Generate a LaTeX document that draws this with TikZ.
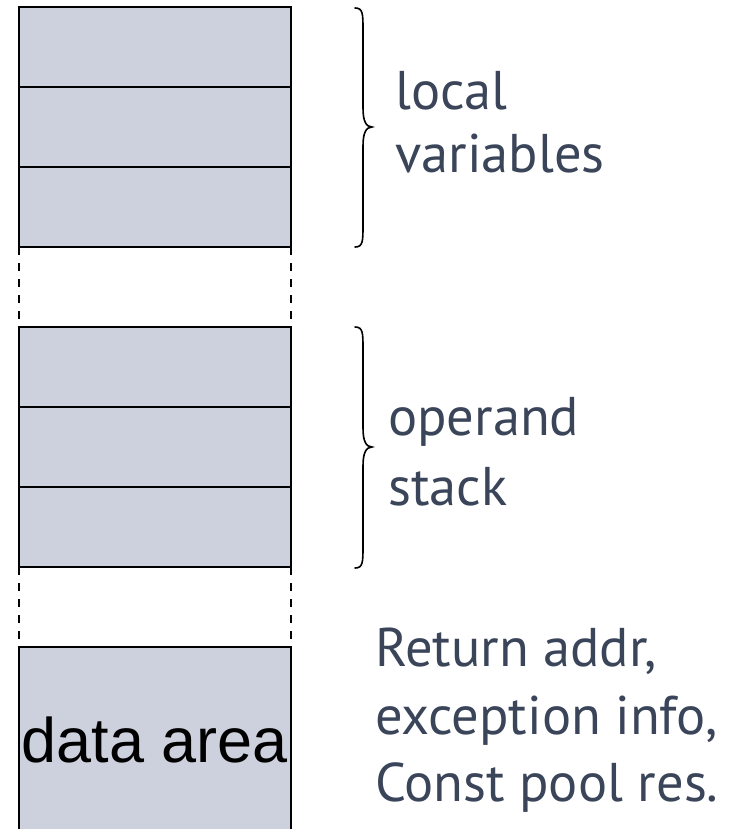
\documentclass[tikz,border=0pt]{standalone}
\usepackage{fontspec}
\setmainfont{PT Sans}
\newfontfamily\arialfont{Liberation Sans}
\definecolor{cellfill}{HTML}{CDD1DE}
\definecolor{labelcol}{HTML}{3B4559}
\begin{document}
\begin{tikzpicture}[x=1pt,y=-1pt,
  cell/.style={draw=black, line width=2pt, fill=cellfill, rectangle,
    minimum width=272pt, minimum height=80pt, anchor=north west, inner sep=0pt, outer sep=0pt},
  gapline/.style={draw=black, line width=2pt, dash pattern=on 8pt off 8pt},
  bracepath/.style={draw=black, line width=1.6pt, line cap=round},
  lbl/.style={text=labelcol, font=\fontsize{54.5}{64}\selectfont, anchor=base west, inner sep=0pt, align=left}
]
\useasboundingbox (0,0) rectangle (739,829);
\clip (0,0) rectangle (739,829);
% local variable slots
\node[cell] (lv1) at (19,7) {};
\node[cell] (lv2) at (19,87) {};
\node[cell] (lv3) at (19,167) {};
% operand stack slots
\node[cell] (os1) at (19,327) {};
\node[cell] (os2) at (19,407) {};
\node[cell] (os3) at (19,487) {};
% frame data area (runs off the bottom)
\node[cell, minimum height=200pt] (data) at (19,647) {};
\node[font=\arialfont\fontsize{63}{70}\selectfont, anchor=base, inner sep=0pt] (datatxt) at (155,762) {data area};
% dashed gaps between the regions
\draw[gapline] (lv3.south west) -- (os1.north west);
\draw[gapline] (lv3.south east) -- (os1.north east);
\draw[gapline] (os3.south west) -- (data.north west);
\draw[gapline] (os3.south east) -- (data.north east);
% curly braces
\coordinate (b1) at (355,8);
\draw[bracepath] (b1) .. controls (363,8) and (363,14) .. (363,30) -- (363,108)
  .. controls (363,121) and (366,127) .. (372,127)
  .. controls (366,127) and (363,133) .. (363,146) -- (363,225)
  .. controls (363,241) and (363,247) .. (355,247);
\coordinate (b2) at (355,327);
\draw[bracepath] (b2) .. controls (363,327) and (363,333) .. (363,349) -- (363,428)
  .. controls (363,441) and (366,447) .. (372,447)
  .. controls (366,447) and (363,453) .. (363,466) -- (363,546)
  .. controls (363,562) and (363,568) .. (355,568);
% labels
\node[lbl] (l1) at (395,110) {local};
\node[lbl] (l2) at (395,173) {variables};
\node[lbl] (o1) at (388,435) {operand};
\node[lbl] (o2) at (388,505) {stack};
\node[lbl] (r1) at (375,666) {Return addr,};
\node[lbl] (r2) at (375,734) {exception info,};
\node[lbl] (r3) at (375,801) {Const pool res.};
\end{tikzpicture}
\end{document}
